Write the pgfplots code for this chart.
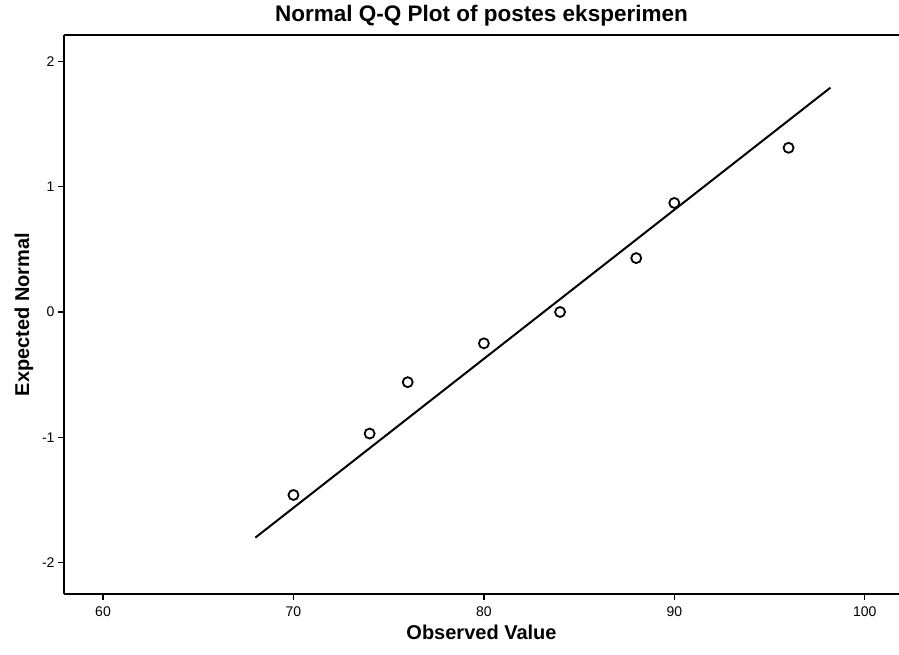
\documentclass[border=0pt]{standalone}
\usepackage{fontspec}
\setmainfont{Liberation Sans}
\usepackage{pgfplots}
\pgfplotsset{compat=1.18}

\begin{document}
\begin{tikzpicture}
\begin{axis}[
    name=ax,
    scale only axis, width=835pt, height=559pt,
    xmin=57.95, xmax=101.8, ymin=-2.25, ymax=2.21,
    axis x line*=box, axis y line*=left,
    axis line style={line width=2pt},
    xtick={60,70,...,100}, ytick={-2,-1,0,1,2},
    tick align=outside, tick pos=left,
    major tick length=6pt,
    every tick/.style={black, line width=1.5pt},
    tick label style={font=\fontsize{14}{16}\selectfont},
    xticklabel style={yshift=-3pt},
    /pgf/number format/assume math mode=true,
    xlabel={\textbf{Observed Value}}, ylabel={\textbf{Expected Normal}},
    label style={font=\fontsize{20}{23}\selectfont},
    xlabel style={yshift=-2pt}, ylabel style={yshift=2pt},
    title={\textbf{Normal Q-Q Plot of postes eksperimen}},
    title style={font=\fontsize{22.5}{25}\selectfont, yshift=-1pt},
    clip=false,
]
\addplot[black, line width=2pt] coordinates {(68.0,-1.80) (98.2,1.79)};
\addplot[only marks, mark=o, mark size=5pt, black, line width=1.8pt] coordinates {
    (70,-1.46) (74,-0.97) (76,-0.56) (80,-0.25) (84,0.0) (88,0.43) (90,0.87) (96,1.31)};
\end{axis}
\pgfresetboundingbox
\path[use as bounding box] ([xshift=-64pt,yshift=-61pt]ax.south west) rectangle ([yshift=35pt]ax.north east);
\end{tikzpicture}
\end{document}
